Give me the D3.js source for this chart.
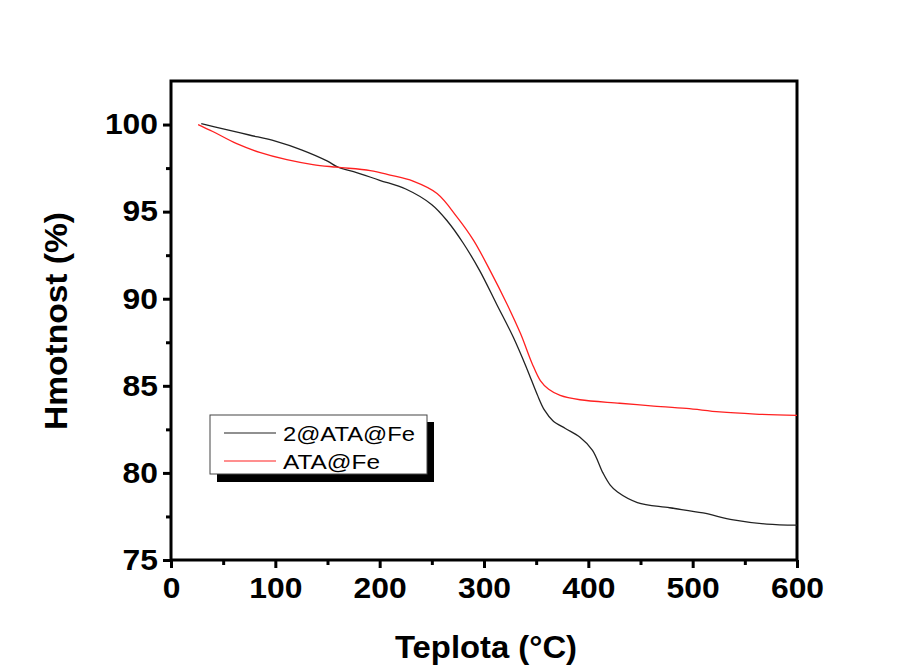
<!DOCTYPE html>
<html><head><meta charset="utf-8">
<script src="https://cdn.jsdelivr.net/npm/d3@7"></script>
<style>body{margin:0;background:#fff;} svg{display:block;}</style>
</head><body>
<svg id="c" width="910" height="668"></svg>
<script>
const seriesNames = ["2@ATA@Fe", "ATA@Fe"];
const seriesColors = ["#222222", "#ff2020"];
const blackX = [29,50,75,100,125,150,160,175,200,225,250,265,280,296,312,328,341,351,358,366,378,392,404,414,421,428,447,478,510,539,571,600];
const blackY = [100.05,99.75,99.4,99.05,98.55,97.9,97.55,97.3,96.8,96.3,95.4,94.45,93.2,91.6,89.7,87.8,86.0,84.5,83.6,83.0,82.55,82.05,81.3,80.0,79.3,78.9,78.3,78.0,77.7,77.3,77.06,77.0];
const redX = [26,40,63,85,111,136,159,191,210,232,255,274,290,306,322,335,346,354,362,373,392,430,460,494,526,560,600];
const redY = [100.0,99.6,98.9,98.4,97.98,97.7,97.55,97.36,97.1,96.75,96.04,94.7,93.35,91.6,89.7,88.0,86.3,85.3,84.8,84.45,84.2,84.0,83.85,83.7,83.5,83.38,83.3];
const xTicks = [0,100,200,300,400,500,600];
const yTicks = [75,80,85,90,95,100];
const xLabel = "Teplota (°C)";
const yLabel = "Hmotnost (%)";

const FONT = "'Liberation Sans', Arial, sans-serif";
const svg = d3.select("#c");
const L=171, R=797, T=81, B=560;
const x = d3.scaleLinear().domain([0,600]).range([L,R]);
const y = d3.scaleLinear().domain([75,102.5]).range([B,T]);

const xAxis = d3.axisBottom(x).tickValues(xTicks).tickSize(8).tickPadding(9);
const xMinor = d3.axisBottom(x).tickValues(d3.range(50,600,100)).tickSize(5).tickFormat("");
const yAxis = d3.axisLeft(y).tickValues(yTicks).tickSize(8).tickPadding(5);
const yMinor = d3.axisLeft(y).tickValues(d3.range(77.5,102.5,5)).tickSize(5).tickFormat("");

function styleAxis(g){
  g.select(".domain").remove();
  g.selectAll("line").attr("stroke","#000").attr("stroke-width",3);
  g.selectAll("text").attr("font-family",FONT).attr("font-weight","bold").attr("font-size",29).attr("fill","#000")
    .attr("textLength",function(){return this.textContent.length*17.7;}).attr("lengthAdjust","spacingAndGlyphs");
}
svg.append("g").attr("transform",`translate(0,${B})`).call(xAxis).call(styleAxis);
svg.append("g").attr("transform",`translate(0,${B})`).call(xMinor).call(styleAxis);
svg.append("g").attr("transform",`translate(${L},0)`).call(yAxis).call(styleAxis);
svg.append("g").attr("transform",`translate(${L},0)`).call(yMinor).call(styleAxis);

svg.append("rect").attr("x",L).attr("y",T).attr("width",R-L).attr("height",B-T)
  .attr("fill","none").attr("stroke","#000").attr("stroke-width",3);

const line = d3.line().x(d=>x(d[0])).y(d=>y(d[1])).curve(d3.curveCatmullRom.alpha(0.5));
const data = [d3.zip(blackX,blackY), d3.zip(redX,redY)];
data.forEach((d,i)=>{
  svg.append("path").datum(d).attr("d",line).attr("fill","none")
    .attr("stroke",seriesColors[i]).attr("stroke-width",1.3);
});

svg.append("text").attr("x",486).attr("y",658).attr("text-anchor","middle")
  .attr("font-family",FONT).attr("font-weight","bold").attr("font-size",31)
  .attr("textLength",182).attr("lengthAdjust","spacingAndGlyphs").text(xLabel);
svg.append("text").attr("transform",`translate(67,${(212+430)/2}) rotate(-90)`).attr("text-anchor","middle")
  .attr("font-family",FONT).attr("font-weight","bold").attr("font-size",31)
  .attr("textLength",218).attr("lengthAdjust","spacingAndGlyphs").text(yLabel);

const lg = svg.append("g");
lg.append("rect").attr("x",217).attr("y",422).attr("width",217).attr("height",60).attr("fill","#000");
lg.append("rect").attr("x",210).attr("y",415).attr("width",217).attr("height",59).attr("fill","#fff").attr("stroke","#444").attr("stroke-width",1);
const legLen = [132, 97];
seriesNames.forEach((n,i)=>{
  const yy = 433 + i*28;
  lg.append("line").attr("x1",224).attr("x2",276).attr("y1",yy).attr("y2",yy).attr("stroke",seriesColors[i]).attr("stroke-width",1.2);
  lg.append("text").attr("x",283).attr("y",yy+8).attr("font-family",FONT)
    .attr("font-size",21).attr("fill","#000").attr("textLength",legLen[i]).attr("lengthAdjust","spacingAndGlyphs").text(n);
});
</script>
</body></html>
